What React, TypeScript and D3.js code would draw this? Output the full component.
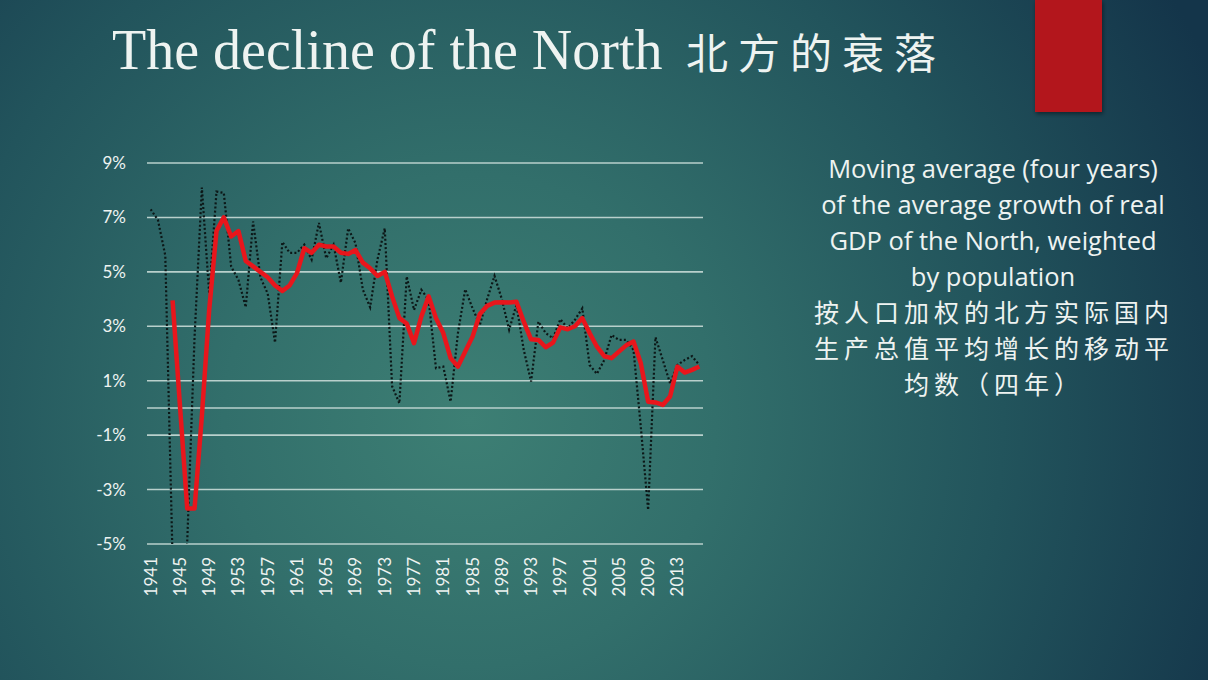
import * as React from 'react';
import * as d3 from 'd3';

const years = [
  1941, 1942, 1943, 1944, 1945, 1946, 1947, 1948, 1949, 1950,
  1951, 1952, 1953, 1954, 1955, 1956, 1957, 1958, 1959, 1960,
  1961, 1962, 1963, 1964, 1965, 1966, 1967, 1968, 1969, 1970,
  1971, 1972, 1973, 1974, 1975, 1976, 1977, 1978, 1979, 1980,
  1981, 1982, 1983, 1984, 1985, 1986, 1987, 1988, 1989, 1990,
  1991, 1992, 1993, 1994, 1995, 1996, 1997, 1998, 1999, 2000,
  2001, 2002, 2003, 2004, 2005, 2006, 2007, 2008, 2009, 2010,
  2011, 2012, 2013, 2014, 2015, 2016,
];

// annual growth of real GDP (dotted)
const annualGrowth = [
  7.3, 6.9, 5.6, -5.6, -9.0, -4.9, 2.6, 8.1, 4.2, 7.95,
  7.9, 5.2, 4.7, 3.7, 6.85, 4.8, 4.2, 2.4, 6.1, 5.7,
  5.7, 6.0, 5.45, 6.8, 5.5, 6.0, 4.6, 6.6, 6.05, 4.35,
  3.7, 5.45, 6.6, 0.8, 0.17, 4.83, 3.6, 4.34, 3.97, 1.46,
  1.52, 0.23, 2.75, 4.36, 3.66, 3.05, 4.0, 4.85, 4.0, 2.87,
  3.79, 2.13, 0.97, 3.17, 2.75, 2.56, 3.26, 2.93, 3.24, 3.66,
  1.58, 1.25, 1.76, 2.68, 2.5, 2.5, 2.13, -0.7, -3.75, 2.6,
  1.76, 0.9, 1.58, 1.76, 1.9, 1.58,
];

// four-year moving average (red)
const movingAverage: (number | null)[] = [
  null, null, null, 3.95, 0.1, -3.7, -3.7, -0.3, 3.6, 6.5,
  7.0, 6.3, 6.5, 5.4, 5.2, 5.0, 4.8, 4.5, 4.3, 4.5,
  4.95, 5.87, 5.7, 6.0, 5.93, 5.93, 5.7, 5.66, 5.8, 5.34,
  5.13, 4.85, 5.0, 4.1, 3.3, 3.1, 2.38, 3.36, 4.1, 3.3,
  2.75, 1.83, 1.52, 2.07, 2.62, 3.45, 3.75, 3.87, 3.88, 3.87,
  3.9, 3.17, 2.52, 2.5, 2.23, 2.4, 2.96, 2.89, 3.0, 3.3,
  2.75, 2.25, 1.9, 1.83, 2.07, 2.3, 2.44, 1.64, 0.23, 0.2,
  0.11, 0.42, 1.52, 1.3, 1.4, 1.52,
];

const yTicks = [-5, -3, -1, 1, 3, 5, 7, 9];
const xTickYears = [
  1941, 1945, 1949, 1953, 1957, 1961, 1965, 1969, 1973, 1977,
  1981, 1985, 1989, 1993, 1997, 2001, 2005, 2009, 2013,
];

const titleLatin = 'The decline of the North';
const titleChinese = '北方的衰落';
const noteLines = [
  'Moving average (four years)',
  'of the average growth of real',
  'GDP of the North, weighted',
  'by population',
];
const noteChineseLines = ['按人口加权的北方实际国内', '生产总值平均增长的移动平', '均数（四年）'];

const dimensions = { width: 1208, height: 680 };
const plot = { left: 147, right: 703, top: 163, bottom: 544 };

const App: React.FC = () => {
  const x = d3
    .scaleBand<number>()
    .domain(years)
    .range([plot.left, plot.right])
    .padding(0);
  const cx = (yr: number) => (x(yr) ?? 0) + x.bandwidth() / 2;
  const y = d3.scaleLinear([-5, 9], [plot.bottom, plot.top]);

  const rows = years.map((yr, i) => ({
    year: yr,
    growth: annualGrowth[i],
    avg: movingAverage[i],
  }));

  const growthLine = d3
    .line<(typeof rows)[number]>()
    .x((d) => cx(d.year))
    .y((d) => y(d.growth));

  const avgLine = d3
    .line<(typeof rows)[number]>()
    .defined((d) => d.avg !== null)
    .x((d) => cx(d.year))
    .y((d) => y(d.avg as number));

  const gridColor = '#b9d0cc';
  const textColor = '#eef3f1';

  return (
    <svg
      width={dimensions.width}
      height={dimensions.height}
      viewBox={`0 0 ${dimensions.width} ${dimensions.height}`}
      style={{ display: 'block' }}
    >
      <style>{`body{margin:0}`}</style>
      <defs>
        <radialGradient
          id="bg"
          gradientUnits="userSpaceOnUse"
          cx={470}
          cy={420}
          r={820}
        >
          <stop offset="0" stopColor="#3d7f74" />
          <stop offset="0.3" stopColor="#326f6b" />
          <stop offset="0.65" stopColor="#22545c" />
          <stop offset="1" stopColor="#14354a" />
        </radialGradient>
        <clipPath id="plotClip">
          <rect
            x={plot.left}
            y={plot.top - 10}
            width={plot.right - plot.left}
            height={plot.bottom - plot.top + 10}
          />
        </clipPath>
        <filter id="shadow" x="-20%" y="-20%" width="140%" height="140%">
          <feDropShadow dx="1" dy="2" stdDeviation="2" floodColor="#000" floodOpacity="0.45" />
        </filter>
      </defs>

      <rect width={dimensions.width} height={dimensions.height} fill="url(#bg)" />

      {/* red bookmark */}
      <rect x={1035} y={0} width={67} height={112} fill="#b3191b" filter="url(#shadow)" />

      {/* title */}
      <text x={112} y={69} fill={textColor}>
        <tspan fontFamily="'Liberation Serif', serif" fontSize={56}>
          {titleLatin}
        </tspan>
        <tspan
          x={686}
          fontFamily="'Noto Sans CJK SC', sans-serif"
          fontSize={42}
          letterSpacing={10}
        >
          {titleChinese}
        </tspan>
      </text>

      {/* gridlines */}
      <g stroke={gridColor} strokeWidth={1.6}>
        {yTicks.map((t) => (
          <line key={t} x1={plot.left} x2={plot.right} y1={y(t)} y2={y(t)} />
        ))}
        <line x1={plot.left} x2={plot.right} y1={y(0)} y2={y(0)} />
      </g>

      {/* y labels */}
      <g fontFamily="Lato, 'Open Sans', sans-serif" fontSize={17} fill={textColor} textAnchor="end">
        {yTicks.map((t) => (
          <text key={t} x={126} y={y(t)} dy="0.35em">
            {`${t}%`}
          </text>
        ))}
      </g>

      {/* x labels */}
      <g fontFamily="Lato, 'Open Sans', sans-serif" fontSize={17} fill={textColor} textAnchor="end">
        {xTickYears.map((yr) => (
          <text
            key={yr}
            transform={`translate(${cx(yr)}, 557) rotate(-90)`}
            dy="0.35em"
          >
            {yr}
          </text>
        ))}
      </g>

      <g clipPath="url(#plotClip)" fill="none">
        <path
          d={growthLine(rows) ?? ''}
          stroke="#0c1717"
          strokeWidth={2.2}
          strokeDasharray="2 2.2"
        />
        <path
          d={avgLine(rows) ?? ''}
          stroke="#e8161c"
          strokeWidth={4.5}
          strokeLinejoin="round"
        />
      </g>

      {/* note */}
      <g fill={textColor} textAnchor="middle">
        {noteLines.map((line, i) => (
          <text
            key={line}
            x={993}
            y={178 + i * 36}
            fontFamily="'Open Sans', Lato, sans-serif"
            fontSize={25.5}
          >
            {line}
          </text>
        ))}
        {noteChineseLines.map((line, i) => (
          <text
            key={line}
            x={994}
            y={322 + i * 36}
            fontFamily="'Noto Sans CJK SC', sans-serif"
            fontSize={25}
            letterSpacing={5}
          >
            {line}
          </text>
        ))}
      </g>
    </svg>
  );
};

export default App;
